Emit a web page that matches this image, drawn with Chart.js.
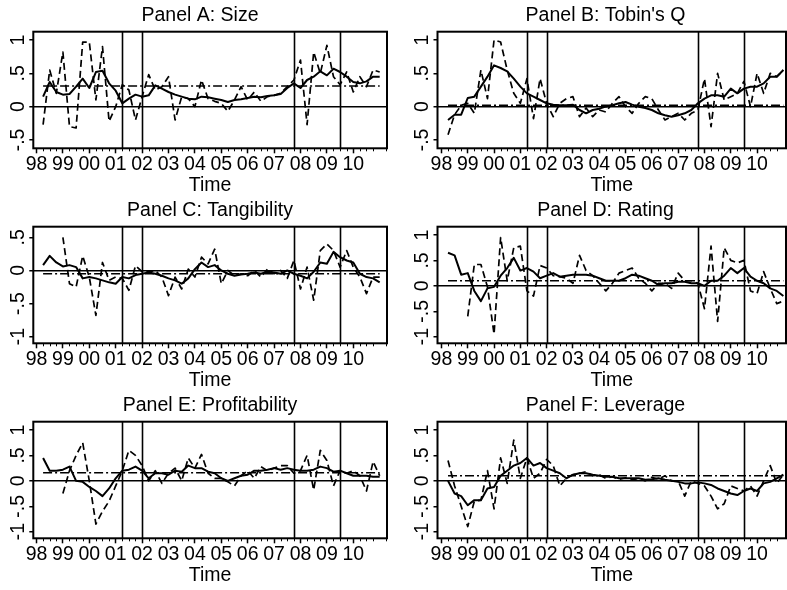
<!DOCTYPE html>
<html>
<head>
<meta charset="utf-8">
<script src="https://cdn.jsdelivr.net/npm/chart.js@4.4.1/dist/chart.umd.min.js"></script>
<style>
  html, body { margin: 0; padding: 0; background: #fff; }
  #wrap { position: relative; width: 787px; height: 590px; overflow: hidden; }
  .cell { position: absolute; }
</style>
</head>
<body>
<div id="wrap"></div>
<script>
/* ---------- data ---------- */
const QUARTERS = [
  '1998q2','1998q3','1998q4','1999q1','1999q2','1999q3','1999q4','2000q1','2000q2','2000q3','2000q4',
  '2001q1','2001q2','2001q3','2001q4','2002q1','2002q2','2002q3','2002q4','2003q1','2003q2','2003q3','2003q4',
  '2004q1','2004q2','2004q3','2004q4','2005q1','2005q2','2005q3','2005q4','2006q1','2006q2','2006q3','2006q4',
  '2007q1','2007q2','2007q3','2007q4','2008q1','2008q2','2008q3','2008q4','2009q1','2009q2','2009q3','2009q4',
  '2010q1','2010q2','2010q3','2010q4','2011q1'
];
const X_TICKS  = [1998,1999,2000,2001,2002,2003,2004,2005,2006,2007,2008,2009,2010];
const X_LABELS = ['98','99','00','01','02','03','04','05','06','07','08','09','10'];
const RECESSION_LINES = [2001.25, 2002.0, 2007.75, 2009.5];

const SIZE_SOLID  = [0.15,0.37,0.22,0.18,0.19,0.30,0.42,0.28,0.52,0.54,0.35,0.24,0.05,0.12,0.18,0.15,0.17,0.32,0.27,0.22,0.18,0.15,0.12,0.11,0.15,0.14,0.12,0.10,0.07,0.10,0.11,0.13,0.15,0.14,0.16,0.17,0.19,0.28,0.35,0.28,0.40,0.45,0.53,0.47,0.57,0.52,0.45,0.37,0.35,0.38,0.45,0.45];
const SIZE_DASHED = [-0.27,0.55,0.20,0.82,-0.30,-0.32,0.97,0.97,0.10,0.90,-0.22,0.00,0.33,0.25,-0.20,0.15,0.48,0.25,0.30,0.45,-0.20,0.15,0.12,0.00,0.40,0.12,0.08,0.05,-0.07,0.10,0.30,0.10,0.22,0.08,0.15,0.17,0.20,0.30,0.40,0.70,-0.27,0.82,0.50,0.92,0.45,0.33,0.52,0.22,0.45,0.30,0.55,0.52];
const SIZE_MEAN = 0.31;

const TOBIN_SOLID  = [-0.20,-0.12,-0.12,0.13,0.15,0.30,0.45,0.62,0.58,0.53,0.42,0.30,0.20,0.15,0.10,0.05,0.03,0.02,0.02,0.03,-0.05,-0.10,-0.05,-0.03,0.00,0.02,0.05,0.07,0.03,0.00,-0.02,-0.05,-0.10,-0.13,-0.15,-0.13,-0.10,-0.05,0.05,0.12,0.17,0.17,0.15,0.27,0.20,0.27,0.30,0.30,0.35,0.45,0.45,0.55];
const TOBIN_DASHED = [-0.42,-0.12,0.02,0.05,-0.10,0.55,0.12,1.00,0.97,0.55,0.20,0.05,0.42,-0.18,0.42,0.05,-0.15,0.05,0.12,0.15,-0.15,-0.02,-0.15,-0.05,-0.08,0.05,0.15,0.00,-0.10,0.05,0.15,0.12,-0.05,-0.20,-0.15,-0.10,-0.20,-0.10,-0.05,0.42,-0.30,0.50,0.10,0.15,0.20,0.38,0.00,0.50,0.20,0.50,0.45,0.55];
const TOBIN_MEAN = 0.02;

const TANG_SOLID  = [0.08,0.22,0.12,0.06,0.08,0.05,-0.12,-0.10,-0.12,-0.15,-0.18,-0.20,-0.10,-0.12,-0.07,-0.05,-0.03,-0.05,-0.08,-0.12,-0.15,-0.20,-0.12,0.02,0.12,0.05,0.08,0.00,-0.05,-0.08,-0.06,-0.05,-0.03,-0.05,-0.02,-0.03,-0.05,0.00,-0.05,-0.08,-0.12,-0.02,0.12,0.10,0.28,0.20,0.15,0.12,-0.05,-0.10,-0.12,-0.18];
const TANG_DASHED = [null,null,null,0.50,-0.20,-0.25,0.22,-0.10,-0.68,0.12,-0.15,-0.10,-0.12,-0.30,0.07,-0.02,-0.02,0.00,-0.10,-0.38,-0.10,-0.28,0.02,-0.10,0.20,0.10,0.32,-0.20,0.00,-0.08,-0.05,-0.08,0.00,-0.10,0.02,-0.05,0.00,-0.12,0.15,-0.28,0.05,-0.45,0.30,0.40,0.30,0.05,0.30,0.05,-0.10,-0.35,-0.10,-0.10];
const TANG_MEAN = -0.05;

const RATING_SOLID  = [0.65,0.60,0.22,0.25,-0.10,-0.30,-0.05,-0.02,0.20,0.35,0.55,0.30,0.35,0.28,0.15,0.20,0.25,0.18,0.20,0.22,0.22,0.22,0.20,0.15,0.10,0.10,0.10,0.15,0.22,0.20,0.15,0.10,0.02,0.05,0.05,0.08,0.08,0.05,0.05,0.00,0.10,0.10,0.20,0.35,0.25,0.35,0.18,0.10,0.05,-0.05,-0.10,-0.20];
const RATING_DASHED = [null,null,null,-0.60,0.42,0.42,-0.02,-0.95,0.95,0.10,0.75,0.78,-0.10,-0.20,0.40,0.35,0.20,0.18,0.15,0.05,0.60,0.30,0.20,0.05,-0.10,0.05,0.25,0.30,0.35,0.15,0.05,-0.10,0.05,0.05,-0.05,0.25,0.10,0.10,0.05,-0.45,0.78,-0.70,0.75,0.50,0.45,0.50,-0.10,-0.15,0.28,-0.05,-0.35,-0.30];
const RATING_MEAN = 0.10;

const PROF_SOLID  = [0.45,0.20,0.20,0.22,0.28,0.00,-0.02,-0.12,-0.20,-0.30,-0.15,0.05,0.20,0.22,0.28,0.20,0.05,0.15,0.15,0.12,0.20,0.18,0.30,0.25,0.25,0.18,0.15,0.05,0.00,0.05,0.10,0.12,0.20,0.20,0.22,0.25,0.22,0.25,0.22,0.20,0.20,0.22,0.28,0.25,0.18,0.20,0.15,0.10,0.10,0.10,0.08,0.08];
const PROF_DASHED = [null,null,null,-0.25,0.20,0.50,0.75,0.00,-0.85,-0.60,-0.40,-0.10,0.20,0.60,0.50,0.30,0.00,0.20,-0.05,0.15,0.25,0.00,0.45,0.25,0.52,0.15,0.05,0.05,-0.02,-0.10,0.10,0.20,0.05,0.28,0.20,0.25,0.30,0.30,0.15,0.20,0.50,-0.18,0.60,0.40,-0.10,0.20,0.15,0.20,0.10,-0.20,0.38,0.10];
const PROF_MEAN = 0.16;

const LEV_SOLID  = [0.00,-0.25,-0.30,-0.48,-0.38,-0.38,-0.15,-0.12,0.10,0.20,0.30,0.35,0.45,0.30,0.35,0.25,0.20,0.15,0.05,0.12,0.15,0.15,0.12,0.10,0.08,0.08,0.05,0.05,0.05,0.05,0.02,0.03,0.05,0.02,0.00,-0.02,-0.05,-0.05,-0.03,-0.05,-0.08,-0.15,-0.20,-0.25,-0.28,-0.20,-0.15,-0.20,-0.05,-0.02,0.05,0.12];
const LEV_DASHED = [0.40,-0.10,-0.50,-0.90,-0.40,-0.38,0.20,-0.55,0.45,-0.05,0.80,0.05,0.45,0.05,0.15,0.42,0.30,-0.10,0.05,0.12,0.15,0.18,0.10,0.12,0.05,0.08,0.03,0.06,0.02,0.05,0.00,0.07,0.03,0.10,0.00,0.00,-0.30,0.00,-0.05,-0.10,-0.30,-0.55,-0.45,-0.10,-0.15,-0.20,-0.10,-0.30,0.00,0.30,-0.05,0.12];
const LEV_MEAN = 0.10;

const Y_TICKS_HALF  = [-0.5, 0, 0.5, 1];
const Y_LABELS_HALF = ['-.5', '0', '.5', '1'];
const Y_TICKS_TANG  = [-1, -0.5, 0, 0.5];
const Y_LABELS_TANG = ['-1', '-.5', '0', '.5'];
const Y_TICKS_FULL  = [-1, -0.5, 0, 0.5, 1];
const Y_LABELS_FULL = ['-1', '-.5', '0', '.5', '1'];

/* ---------- layout ---------- */
const FONT = '"Liberation Sans", Arial, Helvetica, sans-serif';
const FS = 19.5;
const ROW_TOP = [0, 195, 390];
// chartLeft = left edge of the plot box inside the cell; padLeft moves the title centre
const COLS = [
  { left: 0,   width: 393, chartLeft: 33.3, padLeft: 33, padRight: 6, xMin: 1997.879, xMax: 2011.277 },
  { left: 393, width: 394, chartLeft: 44.5, padLeft: 32, padRight: 1, xMin: 1997.85,  xMax: 2011.10 }
];

const PANELS = [
  { title: 'Panel A: Size',          solid: SIZE_SOLID,   dashed: SIZE_DASHED,   mean: SIZE_MEAN,   yTicks: Y_TICKS_HALF, yLabels: Y_LABELS_HALF, yMin: -0.625, yMax: 1.125, row: 0, col: 0, padLeft: 13 },
  { title: "Panel B: Tobin's Q",     solid: TOBIN_SOLID,  dashed: TOBIN_DASHED,  mean: TOBIN_MEAN,  yTicks: Y_TICKS_HALF, yLabels: Y_LABELS_HALF, yMin: -0.625, yMax: 1.125, row: 0, col: 1 },
  { title: 'Panel C: Tangibility',   solid: TANG_SOLID,   dashed: TANG_DASHED,   mean: TANG_MEAN,   yTicks: Y_TICKS_TANG, yLabels: Y_LABELS_TANG, yMin: -1.1,   yMax: 0.66,  row: 1, col: 0 },
  { title: 'Panel D: Rating',        solid: RATING_SOLID, dashed: RATING_DASHED, mean: RATING_MEAN, yTicks: Y_TICKS_FULL, yLabels: Y_LABELS_FULL, yMin: -1.13,  yMax: 1.163, row: 1, col: 1 },
  { title: 'Panel E: Profitability', solid: PROF_SOLID,   dashed: PROF_DASHED,   mean: PROF_MEAN,   yTicks: Y_TICKS_FULL, yLabels: Y_LABELS_FULL, yMin: -1.13,  yMax: 1.163, row: 2, col: 0 },
  { title: 'Panel F: Leverage',      solid: LEV_SOLID,    dashed: LEV_DASHED,    mean: LEV_MEAN,    yTicks: Y_TICKS_FULL, yLabels: Y_LABELS_FULL, yMin: -1.13,  yMax: 1.163, row: 2, col: 1 }
];

// '1998q2' -> 1998.25
const qx = q => +q.slice(0, 4) + (+q.slice(5) - 1) / 4;
const pts = vals => QUARTERS.map((q, i) => ({ x: qx(q), y: vals[i] }));

/* ---------- stata-ish frame: box, recession lines, minor ticks, rotated y labels ---------- */
const stataFrame = {
  id: 'stataFrame',
  afterDatasetsDraw(chart, args, opts) {
    const { ctx, chartArea: a, scales: { x, y } } = chart;
    ctx.save();
    ctx.strokeStyle = '#000';

    // recession lines
    ctx.lineWidth = 1.6;
    RECESSION_LINES.forEach(d => {
      const px = Math.round(x.getPixelForValue(d)) + 0.5;
      ctx.beginPath(); ctx.moveTo(px, a.top); ctx.lineTo(px, a.bottom); ctx.stroke();
    });

    // minor quarter ticks
    ctx.lineWidth = 1;
    for (let yr = 1997; yr <= 2011; yr++) {
      [0.25, 0.5, 0.75].forEach(f => {
        const v = yr + f;
        if (v <= x.min || v >= x.max) return;
        const px = Math.round(x.getPixelForValue(v)) + 0.5;
        ctx.beginPath(); ctx.moveTo(px, a.bottom); ctx.lineTo(px, a.bottom + 3); ctx.stroke();
      });
    }

    // box
    ctx.lineWidth = 2;
    ctx.strokeRect(a.left, a.top, a.right - a.left, a.bottom - a.top);

    // rotated y tick labels
    ctx.fillStyle = '#000';
    ctx.font = FS + 'px ' + FONT;
    ctx.textAlign = 'center';
    ctx.textBaseline = 'middle';
    y.ticks.forEach((t, i) => {
      const py = y.getPixelForValue(t.value);
      ctx.save();
      ctx.translate(a.left - 15, py);
      ctx.rotate(-Math.PI / 2);
      ctx.fillText(opts.labels[i], 0, 0);
      ctx.restore();
    });
    ctx.restore();
  }
};

const wrap = document.getElementById('wrap');

PANELS.forEach(p => {
  const c = COLS[p.col];
  const padLeft = p.padLeft != null ? p.padLeft : c.padLeft;
  const cell = document.createElement('div');
  cell.className = 'cell';
  cell.style.left = c.left + 'px';
  cell.style.top = ROW_TOP[p.row] + 'px';
  const cv = document.createElement('canvas');
  cv.width = c.width; cv.height = 195;
  cv.style.width = c.width + 'px'; cv.style.height = '195px';
  cell.appendChild(cv);
  wrap.appendChild(cell);

  const first = qx(QUARTERS[0]), last = qx(QUARTERS[QUARTERS.length - 1]);

  new Chart(cv.getContext('2d'), {
    type: 'line',
    data: {
      datasets: [
        { data: pts(p.solid), borderColor: '#000', borderWidth: 2, pointRadius: 0, tension: 0, borderJoinStyle: 'round' },
        { data: pts(p.dashed), borderColor: '#000', borderWidth: 1.7, borderDash: [7, 4], pointRadius: 0, tension: 0, borderJoinStyle: 'round', spanGaps: false },
        { data: [{ x: first, y: p.mean }, { x: last, y: p.mean }], borderColor: '#000', borderWidth: 1.5, borderDash: [9, 3, 2, 3], pointRadius: 0 }
      ]
    },
    options: {
      responsive: false,
      animation: false,
      events: [],
      layout: { padding: { left: padLeft, right: c.padRight, top: 0, bottom: 0 } },
      plugins: {
        legend: { display: false },
        tooltip: { enabled: false },
        title: {
          display: true, text: p.title, color: '#000',
          font: { family: FONT, size: FS, weight: 'normal' },
          padding: { top: 4, bottom: 4.3 }
        },
        stataFrame: { labels: p.yLabels }
      },
      scales: {
        x: {
          type: 'linear', min: c.xMin, max: c.xMax,
          afterBuildTicks: s => { s.ticks = X_TICKS.map(v => ({ value: v })); },
          afterFit: s => { s.height = 46.7; },
          ticks: {
            autoSkip: false, maxRotation: 0, minRotation: 0, padding: 0, color: '#000',
            font: { family: FONT, size: FS },
            callback: (v, i) => X_LABELS[i]
          },
          grid: { drawOnChartArea: false, tickLength: 5, tickColor: '#000', tickWidth: 1.5 },
          border: { display: false },
          title: { display: true, text: 'Time', color: '#000', font: { family: FONT, size: FS }, padding: { top: 0, bottom: -2.2 } }
        },
        y: {
          min: p.yMin, max: p.yMax,
          afterBuildTicks: s => { s.ticks = p.yTicks.map(v => ({ value: v })); },
          afterFit: s => { s.width = c.chartLeft - padLeft; },
          ticks: { display: false },
          grid: {
            color: ctx => (ctx.tick && ctx.tick.value === 0) ? '#000' : 'rgba(0,0,0,0)',
            lineWidth: 1.5, tickLength: 4, tickColor: '#000', tickWidth: 1.5
          },
          border: { display: false }
        }
      }
    },
    plugins: [stataFrame]
  });
});
</script>
</body>
</html>
